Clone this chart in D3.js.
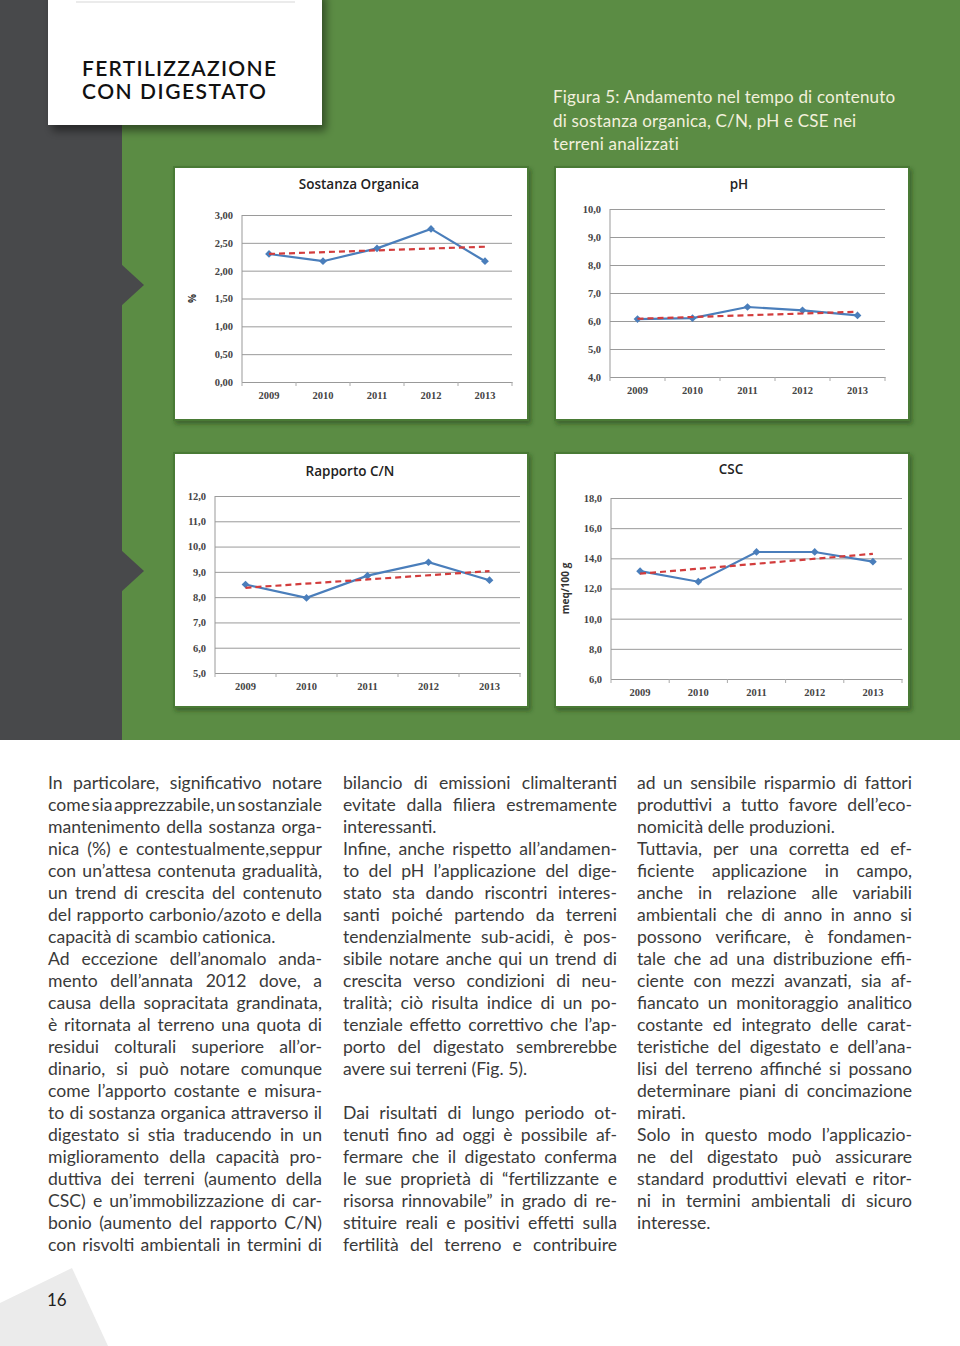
<!DOCTYPE html>
<html>
<head>
<meta charset="utf-8">
<script src="https://cdn.jsdelivr.net/npm/d3@7"></script>
<style>
body { margin: 0; background: #fff; }
svg { display: block; }
</style>
</head>
<body>
<script>
// chart data
var years = ["2009", "2010", "2011", "2012", "2013"];

var soValues = [2.30, 2.17, 2.40, 2.75, 2.17];
var soTrend = [2.30, 2.43];
var soTicks = [0, 0.5, 1, 1.5, 2, 2.5, 3];

var phValues = [6.07, 6.10, 6.50, 6.38, 6.20];
var phTrend = [6.08, 6.33];
var phTicks = [4, 5, 6, 7, 8, 9, 10];

var cnValues = [8.50, 7.97, 8.85, 9.38, 8.67];
var cnTrend = [8.37, 9.03];
var cnTicks = [5, 6, 7, 8, 9, 10, 11, 12];

var cscValues = [13.15, 12.45, 14.42, 14.42, 13.78];
var cscTrend = [12.98, 14.30];
var cscTicks = [6, 8, 10, 12, 14, 16, 18];

// page text ("~" marks the last line of a paragraph, not justified)
var col1 = [
  "In particolare, significativo notare",
  "come sia apprezzabile, un sostanziale",
  "mantenimento della sostanza orga-",
  "nica (%) e  contestualmente,seppur",
  "con un’attesa contenuta gradualità,",
  "un trend di crescita del contenuto",
  "del rapporto carbonio/azoto e della",
  "capacità di scambio cationica.~",
  "Ad eccezione dell’anomalo anda-",
  "mento dell’annata 2012 dove, a",
  "causa della sopracitata grandinata,",
  "è ritornata al terreno una quota di",
  "residui colturali superiore all’or-",
  "dinario, si può notare comunque",
  "come l’apporto costante e misura-",
  "to di sostanza organica attraverso il",
  "digestato si stia traducendo in un",
  "miglioramento della capacità pro-",
  "duttiva dei terreni (aumento della",
  "CSC) e un’immobilizzazione di car-",
  "bonio (aumento del rapporto C/N)",
  "con risvolti ambientali in termini di"
];
var col2 = [
  "bilancio di emissioni climalteranti",
  "evitate dalla filiera estremamente",
  "interessanti.~",
  "Infine, anche rispetto all’andamen-",
  "to del pH l’applicazione del dige-",
  "stato sta dando riscontri interes-",
  "santi poiché partendo da terreni",
  "tendenzialmente sub-acidi, è pos-",
  "sibile notare anche qui un trend di",
  "crescita verso condizioni di neu-",
  "tralità; ciò risulta indice di un po-",
  "tenziale effetto correttivo che l’ap-",
  "porto del digestato sembrerebbe",
  "avere sui terreni (Fig. 5).~",
  "~",
  "Dai risultati di lungo periodo ot-",
  "tenuti fino ad oggi è possibile af-",
  "fermare che il digestato conferma",
  "le sue proprietà di “fertilizzante e",
  "risorsa rinnovabile” in grado di re-",
  "stituire reali e positivi effetti sulla",
  "fertilità del terreno e contribuire"
];
var col3 = [
  "ad un sensibile risparmio di fattori",
  "produttivi a tutto favore dell’eco-",
  "nomicità delle produzioni.~",
  "Tuttavia, per una corretta ed ef-",
  "ficiente applicazione in campo,",
  "anche in relazione alle variabili",
  "ambientali che di anno in anno si",
  "possono verificare, è fondamen-",
  "tale che ad una distribuzione effi-",
  "ciente con mezzi avanzati, sia af-",
  "fiancato un monitoraggio analitico",
  "costante ed integrato delle carat-",
  "teristiche del digestato e dell’ana-",
  "lisi del terreno affinché si possano",
  "determinare piani di concimazione",
  "mirati.~",
  "Solo in questo modo l’applicazio-",
  "ne del digestato può assicurare",
  "standard produttivi elevati e ritor-",
  "ni in termini ambientali di sicuro",
  "interesse.~"
];

var W = 960, H = 1346;
var green = "#5b8c44", dark = "#48494b";

var svg = d3.select("body").append("svg")
    .attr("width", W)
    .attr("height", H);

var defs = svg.append("defs");
var sh = defs.append("filter").attr("id", "shadow")
    .attr("x", "-10%").attr("y", "-10%").attr("width", "130%").attr("height", "140%");
sh.append("feDropShadow")
    .attr("dx", 4).attr("dy", 6).attr("stdDeviation", 4)
    .attr("flood-color", "#000").attr("flood-opacity", 0.45);
var sh2 = defs.append("filter").attr("id", "shadow2")
    .attr("x", "-5%").attr("y", "-5%").attr("width", "115%").attr("height", "115%");
sh2.append("feDropShadow")
    .attr("dx", 2).attr("dy", 3).attr("stdDeviation", 2)
    .attr("flood-color", "#1f3d14").attr("flood-opacity", 0.5);

// background blocks
svg.append("rect").attr("x", 0).attr("y", 0).attr("width", W).attr("height", 740).attr("fill", green);
svg.append("rect").attr("x", 0).attr("y", 0).attr("width", 122).attr("height", 740).attr("fill", dark);
[285, 571].forEach(function(cy) {
  svg.append("path")
      .attr("d", "M121," + (cy - 21) + "L144," + cy + "L121," + (cy + 21) + "Z")
      .attr("fill", dark);
});

// header box
svg.append("rect")
    .attr("x", 48).attr("y", -10).attr("width", 274).attr("height", 135)
    .attr("fill", "#fff")
    .attr("filter", "url(#shadow)");
svg.append("line")
    .attr("x1", 76).attr("x2", 295).attr("y1", 2).attr("y2", 2)
    .attr("stroke", "#e4e4e4").attr("stroke-width", 1.5);

["FERTILIZZAZIONE", "CON DIGESTATO"].forEach(function(t, i) {
  svg.append("text")
      .attr("x", 82).attr("y", 76 + i * 23)
      .attr("textLength", i ? 184 : 194)
      .attr("font-family", "Lato, sans-serif")
      .attr("font-size", 21)
      .attr("font-weight", 600)
      .attr("fill", "#111")
      .text(t);
});

var caption = svg.append("text")
    .attr("font-family", "Lato, sans-serif")
    .attr("font-size", 17)
    .attr("letter-spacing", 0.2)
    .attr("fill", "#f2f0dc");
["Figura 5: Andamento nel tempo di contenuto",
 "di sostanza organica, C/N, pH e CSE nei",
 "terreni analizzati"].forEach(function(t, i) {
  caption.append("tspan").attr("x", 553).attr("y", 103 + i * 23.5).text(t);
});

// charts
var loc = d3.formatLocale({decimal: ",", thousands: ".", grouping: [3], currency: ["", "€"]});

var charts = [
  {title: "Sostanza Organica", values: soValues, trend: soTrend, ticks: soTicks, fmt: loc.format(".2f"),
   box: [174, 167, 354, 253], plot: [242, 512, 215, 382], titleX: 359, titleY: 189, ylab: "%", ylabX: 196},
  {title: "pH", values: phValues, trend: phTrend, ticks: phTicks, fmt: loc.format(".1f"),
   box: [555, 167, 354, 253], plot: [610, 885, 209, 377], titleX: 739, titleY: 189, ylab: null},
  {title: "Rapporto C/N", values: cnValues, trend: cnTrend, ticks: cnTicks, fmt: loc.format(".1f"),
   box: [174, 453, 354, 254], plot: [215, 520, 496, 673], titleX: 350, titleY: 476, ylab: null},
  {title: "CSC", values: cscValues, trend: cscTrend, ticks: cscTicks, fmt: loc.format(".1f"),
   box: [555, 453, 354, 254], plot: [611, 902, 498, 679], titleX: 731, titleY: 474, ylab: "meq/100 g", ylabX: 569}
];

charts.forEach(function(c) {
  var g = svg.append("g");
  g.append("rect")
      .attr("x", c.box[0]).attr("y", c.box[1])
      .attr("width", c.box[2]).attr("height", c.box[3])
      .attr("fill", "#fff")
      .attr("stroke", "#4a7a36").attr("stroke-width", 2)
      .attr("filter", "url(#shadow2)");

  var x = d3.scaleBand().domain(years).range([c.plot[0], c.plot[1]]);
  var y = d3.scaleLinear()
      .domain([c.ticks[0], c.ticks[c.ticks.length - 1]])
      .range([c.plot[3], c.plot[2]]);
  var cx = function(d, i) { return x(years[i]) + x.bandwidth() / 2; };

  g.append("text")
      .attr("x", c.titleX)
      .attr("y", c.titleY)
      .attr("text-anchor", "middle")
      .attr("font-family", "'Open Sans', sans-serif")
      .attr("font-weight", 600)
      .attr("font-size", 13.5)
      .attr("fill", "#222")
      .text(c.title);

  var ya = g.append("g")
      .attr("transform", "translate(" + c.plot[0] + ",0)")
      .call(d3.axisLeft(y).tickValues(c.ticks).tickFormat(c.fmt)
            .tickSize(-(c.plot[1] - c.plot[0])).tickPadding(9));
  ya.select(".domain").attr("stroke", "#999").attr("d", "M0," + c.plot[3] + "V" + c.plot[2]);
  ya.selectAll(".tick line").attr("stroke", "#9a9a9a");
  ya.selectAll(".tick text")
      .attr("font-family", "'Liberation Serif', serif")
      .attr("font-weight", "bold")
      .attr("font-size", 10.5)
      .attr("fill", "#444");

  var xa = g.append("g")
      .attr("transform", "translate(0," + c.plot[3] + ")")
      .call(d3.axisBottom(x).tickSize(0).tickPadding(10));
  xa.select(".domain").attr("stroke", "#999");
  xa.selectAll(".tick text")
      .attr("font-family", "'Liberation Serif', serif")
      .attr("font-weight", "bold")
      .attr("font-size", 10.5)
      .attr("fill", "#444");
  g.selectAll(".xtick")
      .data(years.concat(["end"]))
      .enter().append("line")
      .attr("x1", function(d) { return d === "end" ? c.plot[1] : x(d); })
      .attr("x2", function(d) { return d === "end" ? c.plot[1] : x(d); })
      .attr("y1", c.plot[3]).attr("y2", c.plot[3] + 4)
      .attr("stroke", "#aaa");

  if (c.ylab) {
    g.append("text")
        .attr("transform", "translate(" + c.ylabX + "," + ((c.plot[2] + c.plot[3]) / 2) + ") rotate(-90)")
        .attr("text-anchor", "middle")
        .attr("font-family", "'Open Sans', sans-serif")
        .attr("font-weight", 700)
        .attr("font-size", 10)
        .attr("fill", "#333")
        .text(c.ylab);
  }

  var line = d3.line().x(cx).y(function(d) { return y(d); });
  g.append("path")
      .datum(c.values)
      .attr("d", line)
      .attr("fill", "none")
      .attr("stroke", "#4a7ebb")
      .attr("stroke-width", 2.2);

  g.selectAll(".mk")
      .data(c.values)
      .enter().append("path")
      .attr("d", d3.symbol(d3.symbolSquare, 30))
      .attr("transform", function(d, i) { return "translate(" + cx(d, i) + "," + y(d) + ") rotate(45)"; })
      .attr("fill", "#4a7ebb");

  g.append("line")
      .attr("x1", cx(null, 0)).attr("y1", y(c.trend[0]))
      .attr("x2", cx(null, years.length - 1)).attr("y2", y(c.trend[1]))
      .attr("stroke", "#d23c3c")
      .attr("stroke-width", 2.2)
      .attr("stroke-dasharray", "6,4");
});

// body text, justified by spreading the words
function column(lines, x0, width) {
  lines.forEach(function(raw, i) {
    var last = raw.slice(-1) === "~";
    var t = last ? raw.slice(0, -1) : raw;
    if (!t) return;
    var yy = 789 + i * 22;
    var txt = svg.append("text")
        .attr("y", yy)
        .attr("font-family", "Lato, sans-serif")
        .attr("font-size", 17.6)
        .attr("fill", "#3a3a3a");
    if (last) {
      txt.attr("x", x0).text(t);
      return;
    }
    var words = t.split(" ").filter(function(w) { return w.length; });
    var spans = words.map(function(w) { return txt.append("tspan").text(w); });
    var widths = spans.map(function(s) { return s.node().getComputedTextLength(); });
    var gap = (width - d3.sum(widths)) / (words.length - 1);
    var xx = x0;
    spans.forEach(function(s, k) {
      s.attr("x", xx);
      xx += widths[k] + gap;
    });
  });
}
column(col1, 48, 274);
column(col2, 343, 274);
column(col3, 637, 275);

// page corner
svg.append("path")
    .attr("d", "M0,1303L72,1268L108,1346L0,1346Z")
    .attr("fill", "#ebebeb");
svg.append("text")
    .attr("x", 47).attr("y", 1306)
    .attr("font-family", "Lato, sans-serif")
    .attr("font-size", 17)
    .attr("fill", "#222")
    .text("16");
</script>
</body>
</html>
